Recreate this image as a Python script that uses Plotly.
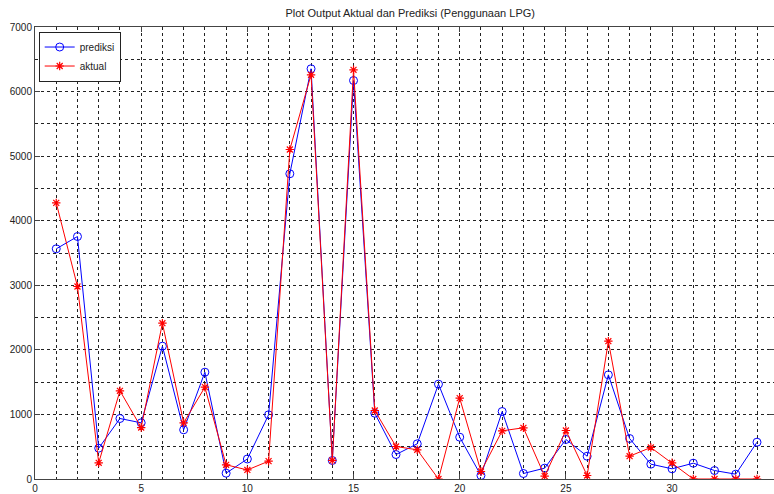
import plotly.graph_objects as go

x_idx = list(range(1, 35))
prediksi = [3565, 3755, 477, 937, 870, 2057, 762, 1654, 90, 310,
            994, 4727, 6353, 287, 6171, 1019, 379, 545, 1469, 648,
            54, 1045, 85, 168, 612, 353, 1613, 627, 230, 158,
            245, 131, 75, 570]
aktual = [4277, 2981, 251, 1366, 797, 2413, 870, 1422, 220, 140,
          276, 5103, 6260, 287, 6337, 1061, 503, 452, 0, 1252,
          116, 746, 793, 44, 751, 54, 2134, 353, 488, 251,
          0, 0, 0, 0]

title_text = "Plot Output Aktual dan Prediksi (Penggunaan LPG)"

fig = go.Figure()
fig.add_trace(go.Scatter(
    x=x_idx, y=prediksi, name="prediksi", mode="lines+markers",
    line=dict(color="#0000FF", width=1),
    marker=dict(symbol="circle-open", size=8, color="#0000FF", line=dict(width=1)),
))
fig.add_trace(go.Scatter(
    x=x_idx, y=aktual, name="aktual", mode="lines+markers",
    line=dict(color="#FF0000", width=1),
    marker=dict(symbol="asterisk-open", size=7, color="#FF0000", line=dict(width=1.2)),
))

grid = dict(showgrid=True, gridcolor="#222222", gridwidth=1, griddash="3px,3px")

fig.update_layout(
    width=774, height=494,
    margin=dict(l=35, r=0, t=27, b=15),
    paper_bgcolor="white", plot_bgcolor="white",
    font=dict(family="Liberation Sans, Arial, sans-serif", size=10, color="#222222"),
    title=dict(text=title_text, x=0.53, xanchor="center", y=0.974, yanchor="middle",
               font=dict(size=11, color="#222222")),
    showlegend=True,
    legend=dict(x=0.005, y=0.99, xanchor="left", yanchor="top",
                bgcolor="white", bordercolor="#222222", borderwidth=1,
                font=dict(size=10, color="#222222"), itemwidth=30,
                tracegroupgap=0),
    xaxis=dict(range=[0, 34.8], tick0=0, dtick=5, ticks="inside", ticklen=5,
               tickcolor="#444444", showline=True, linecolor="#444444", linewidth=1,
               mirror="ticks", zeroline=False,
               minor=dict(dtick=1, showgrid=True, gridcolor="#222222", griddash="3px,3px", ticks=""),
               **grid),
    yaxis=dict(range=[0, 7000], tick0=0, dtick=1000, ticks="inside", ticklen=5,
               tickcolor="#444444", showline=True, linecolor="#444444", linewidth=1,
               mirror="ticks", zeroline=False,
               minor=dict(dtick=500, showgrid=True, gridcolor="#222222", griddash="3px,3px", ticks=""),
               **grid),
)

fig.write_html("out.html", config={"displayModeBar": False},
               post_script="document.body.style.margin='0';document.body.style.overflow='hidden';")
